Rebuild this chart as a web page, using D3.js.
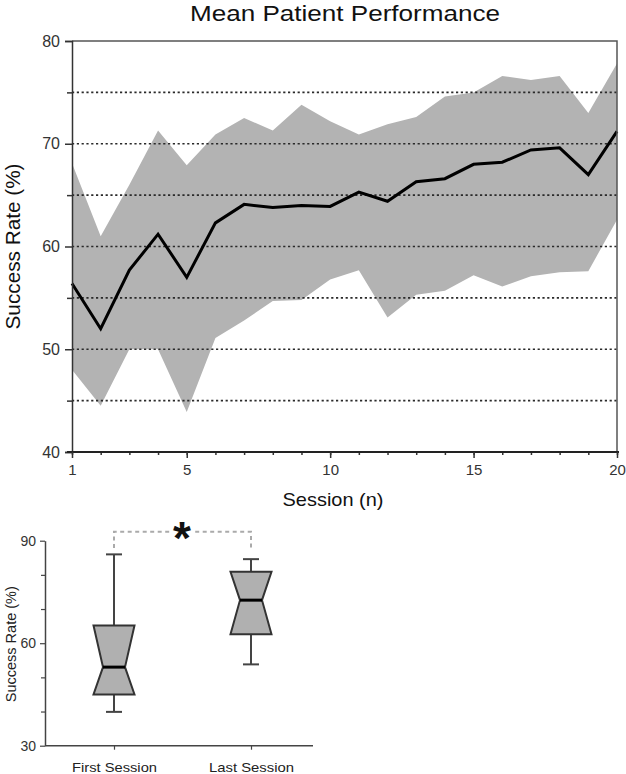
<!DOCTYPE html>
<html>
<head>
<meta charset="utf-8">
<script src="https://cdn.jsdelivr.net/npm/d3@7"></script>
<style>
  html, body { margin: 0; padding: 0; background: #fff; }
  svg { display: block; font-family: "Liberation Sans", Arial, sans-serif; }
</style>
</head>
<body>
<svg id="chart" width="626" height="774"></svg>
<script>
// ---- Data: top panel ----
const sessions = [1, 2, 3, 4, 5, 6, 7, 8, 9, 10, 11, 12, 13, 14, 15, 16, 17, 18, 19, 20];
const meanRate  = [56.4, 52.0, 57.7, 61.2, 57.0, 62.3, 64.1, 63.8, 64.0, 63.9, 65.3, 64.4, 66.3, 66.6, 68.0, 68.2, 69.4, 69.6, 67.0, 71.2];
const upperRate = [68.1, 61.0, 66.0, 71.3, 67.9, 70.9, 72.5, 71.3, 73.8, 72.2, 70.9, 71.9, 72.6, 74.6, 75.0, 76.6, 76.2, 76.6, 73.0, 77.8];
const lowerRate = [48.0, 44.5, 50.0, 50.0, 43.9, 51.1, 52.8, 54.7, 54.8, 56.8, 57.7, 53.1, 55.3, 55.7, 57.2, 56.1, 57.1, 57.5, 57.6, 62.6];
const yTickLabels = [40, 50, 60, 70, 80];
const yMinorTicks = [45, 55, 65, 75];
const gridLevels = [45, 50, 55, 60, 65, 70, 75];
const xTickLabels = [1, 5, 10, 15, 20];

// ---- Data: bottom panel (box plot) ----
const boxCategories = ["First Session", "Last Session"];
const boxMin    = [39.9, 53.8];
const boxQ1     = [45.0, 62.6];
const boxMedian = [53.0, 72.6];
const boxQ3     = [65.2, 80.9];
const boxMax    = [86.0, 84.6];
const boxYTickLabels = [30, 60, 90];
const boxYMinorTicks = [40, 50, 70, 80];

const svg = d3.select("#chart");

// ================= TOP PANEL =================
const L = 72, R = 617, T = 41, B = 452;
const x = d3.scaleLinear().domain([1, 20]).range([L, R]);
const y = d3.scaleLinear().domain([40, 80]).range([B, T]);

const data = sessions.map((s, i) => ({ s, m: meanRate[i], lo: lowerRate[i], hi: upperRate[i] }));

// band
svg.append("path")
  .datum(data)
  .attr("fill", "#b3b3b3")
  .attr("d", d3.area().x(d => x(d.s)).y0(d => y(d.lo)).y1(d => y(d.hi)));

// dotted grid
svg.append("g").selectAll("line").data(gridLevels).join("line")
  .attr("x1", L).attr("x2", R)
  .attr("y1", d => y(d)).attr("y2", d => y(d))
  .attr("stroke", "#2a2a2a").attr("stroke-width", 1.6)
  .attr("stroke-dasharray", "2.2,2.6");

// mean line
svg.append("path")
  .datum(data)
  .attr("fill", "none")
  .attr("stroke", "#000")
  .attr("stroke-width", 3)
  .attr("stroke-linejoin", "miter")
  .attr("d", d3.line().x(d => x(d.s)).y(d => y(d.m)));

// frame top & right
svg.append("path")
  .attr("d", `M${L},${T}H${R}V${B}`)
  .attr("fill", "none").attr("stroke", "#555").attr("stroke-width", 1.5);

// y axis (minor ticks)
const yMinorAxis = svg.append("g").attr("transform", `translate(${L},0)`)
  .call(d3.axisLeft(y).tickValues(yMinorTicks).tickSize(5).tickFormat(""));
yMinorAxis.select(".domain").remove();
yMinorAxis.selectAll("line").attr("stroke", "#333").attr("stroke-width", 1.5);

// y axis (major)
const yAxis = svg.append("g").attr("transform", `translate(${L},0)`)
  .call(d3.axisLeft(y).tickValues(yTickLabels).tickSize(7).tickPadding(5).tickFormat(d3.format("d")));
yAxis.select(".domain").attr("stroke", "#333").attr("stroke-width", 1.5);
yAxis.selectAll("line").attr("stroke", "#333").attr("stroke-width", 1.5);
yAxis.selectAll("text").attr("font-size", 16).attr("fill", "#333")
  .attr("font-family", "Liberation Sans, Arial, sans-serif");

// x axis (minor ticks)
const xMinorAxis = svg.append("g").attr("transform", `translate(0,${B})`)
  .call(d3.axisBottom(x).tickValues(sessions).tickSize(3).tickFormat(""));
xMinorAxis.select(".domain").remove();
xMinorAxis.selectAll("line").attr("stroke", "#333").attr("stroke-width", 1.5);

// x axis (major)
const xAxis = svg.append("g").attr("transform", `translate(0,${B})`)
  .call(d3.axisBottom(x).tickValues(xTickLabels).tickSize(6).tickPadding(6).tickSizeOuter(0).tickFormat(d3.format("d")));
xAxis.select(".domain").attr("stroke", "#222").attr("stroke-width", 2.2)
  .attr("d", `M${L - 5},0H${R + 2}`);
xAxis.selectAll("line").attr("stroke", "#333").attr("stroke-width", 1.5);
xAxis.selectAll("text").attr("font-size", 15).attr("fill", "#333")
  .attr("font-family", "Liberation Sans, Arial, sans-serif");

// title
svg.append("text")
  .attr("x", 345).attr("y", 21)
  .attr("text-anchor", "middle")
  .attr("font-size", 22).attr("fill", "#111")
  .attr("textLength", 310).attr("lengthAdjust", "spacingAndGlyphs")
  .text("Mean Patient Performance");

// axis titles
svg.append("text")
  .attr("x", 333).attr("y", 506)
  .attr("text-anchor", "middle")
  .attr("font-size", 19).attr("fill", "#111")
  .attr("textLength", 101).attr("lengthAdjust", "spacingAndGlyphs")
  .text("Session (n)");

svg.append("text")
  .attr("transform", `translate(20,${(T + B) / 2}) rotate(-90)`)
  .attr("text-anchor", "middle")
  .attr("font-size", 20).attr("fill", "#111")
  .attr("textLength", 166).attr("lengthAdjust", "spacingAndGlyphs")
  .text("Success Rate (%)");

// ================= BOTTOM PANEL =================
const bL = 45, bR = 313, bT = 540.7, bB = 745.7;
const yb = d3.scaleLinear().domain([30, 90]).range([bB, bT]);
const xb = d3.scalePoint().domain(boxCategories).range([114, 251]);

const boxHalf = 20.5, notchHalf = 11, capHalf = 8;

// y axis minor
const ybMinor = svg.append("g").attr("transform", `translate(${bL},0)`)
  .call(d3.axisLeft(yb).tickValues(boxYMinorTicks).tickSize(4).tickFormat(""));
ybMinor.select(".domain").remove();
ybMinor.selectAll("line").attr("stroke", "#444").attr("stroke-width", 1.2);

const ybAxis = svg.append("g").attr("transform", `translate(${bL},0)`)
  .call(d3.axisLeft(yb).tickValues(boxYTickLabels).tickSize(5).tickPadding(4).tickSizeOuter(0).tickFormat(d3.format("d")));
ybAxis.select(".domain").attr("stroke", "#444").attr("stroke-width", 1.5);
ybAxis.selectAll("line").attr("stroke", "#444").attr("stroke-width", 1.2);
ybAxis.selectAll("text").attr("font-size", 14).attr("fill", "#333")
  .attr("font-family", "Liberation Sans, Arial, sans-serif");

// x axis
const xbAxis = svg.append("g").attr("transform", `translate(0,${bB})`)
  .call(d3.axisBottom(xb).tickSize(4).tickPadding(13).tickSizeOuter(0));
xbAxis.select(".domain").attr("stroke", "#444").attr("stroke-width", 1.5)
  .attr("d", `M${bL},0H${bR}`);
xbAxis.selectAll("line").attr("stroke", "#444").attr("stroke-width", 1.2);
xbAxis.selectAll("text").attr("font-size", 13).attr("fill", "#222")
  .attr("font-family", "Liberation Sans, Arial, sans-serif")
  .attr("textLength", 85).attr("lengthAdjust", "spacingAndGlyphs");

// y title
svg.append("text")
  .attr("transform", `translate(16,${(bT + bB) / 2 + 1}) rotate(-90)`)
  .attr("text-anchor", "middle")
  .attr("font-size", 14).attr("fill", "#222")
  .attr("textLength", 116).attr("lengthAdjust", "spacingAndGlyphs")
  .text("Success Rate (%)");

// boxes
const boxes = boxCategories.map((c, i) => ({
  c, min: boxMin[i], q1: boxQ1[i], med: boxMedian[i], q3: boxQ3[i], max: boxMax[i]
}));

const g = svg.append("g").selectAll("g").data(boxes).join("g");

// whiskers
g.append("line")
  .attr("x1", d => xb(d.c)).attr("x2", d => xb(d.c))
  .attr("y1", d => yb(d.max)).attr("y2", d => yb(d.q3))
  .attr("stroke", "#444").attr("stroke-width", 2);
g.append("line")
  .attr("x1", d => xb(d.c)).attr("x2", d => xb(d.c))
  .attr("y1", d => yb(d.q1)).attr("y2", d => yb(d.min))
  .attr("stroke", "#444").attr("stroke-width", 2);
// caps
g.append("line")
  .attr("x1", d => xb(d.c) - capHalf).attr("x2", d => xb(d.c) + capHalf)
  .attr("y1", d => yb(d.max)).attr("y2", d => yb(d.max))
  .attr("stroke", "#444").attr("stroke-width", 2);
g.append("line")
  .attr("x1", d => xb(d.c) - capHalf).attr("x2", d => xb(d.c) + capHalf)
  .attr("y1", d => yb(d.min)).attr("y2", d => yb(d.min))
  .attr("stroke", "#444").attr("stroke-width", 2);

// notched box
g.append("path")
  .attr("d", d => {
    const cx = xb(d.c);
    return `M${cx - boxHalf},${yb(d.q3)}H${cx + boxHalf}L${cx + notchHalf},${yb(d.med)}L${cx + boxHalf},${yb(d.q1)}` +
           `H${cx - boxHalf}L${cx - notchHalf},${yb(d.med)}Z`;
  })
  .attr("fill", "#b0b0b0").attr("stroke", "#333").attr("stroke-width", 2).attr("stroke-linejoin", "miter");

// median
g.append("line")
  .attr("x1", d => xb(d.c) - notchHalf).attr("x2", d => xb(d.c) + notchHalf)
  .attr("y1", d => yb(d.med)).attr("y2", d => yb(d.med))
  .attr("stroke", "#000").attr("stroke-width", 3);

// significance bracket
const brY = 531.7, brBottom = 548;
svg.append("path")
  .attr("d", `M${xb(boxCategories[0])},${brBottom}V${brY}H${xb(boxCategories[1])}V${brBottom}`)
  .attr("fill", "none").attr("stroke", "#aaa").attr("stroke-width", 2)
  .attr("stroke-dasharray", "4,3.5");

// asterisk background & glyph
svg.append("rect")
  .attr("x", 171).attr("y", 522).attr("width", 22).attr("height", 18).attr("fill", "#fff");
svg.append("text")
  .attr("x", 182).attr("y", 554)
  .attr("text-anchor", "middle")
  .attr("font-size", 46).attr("font-weight", "bold").attr("fill", "#111")
  .text("*");
</script>
</body>
</html>
